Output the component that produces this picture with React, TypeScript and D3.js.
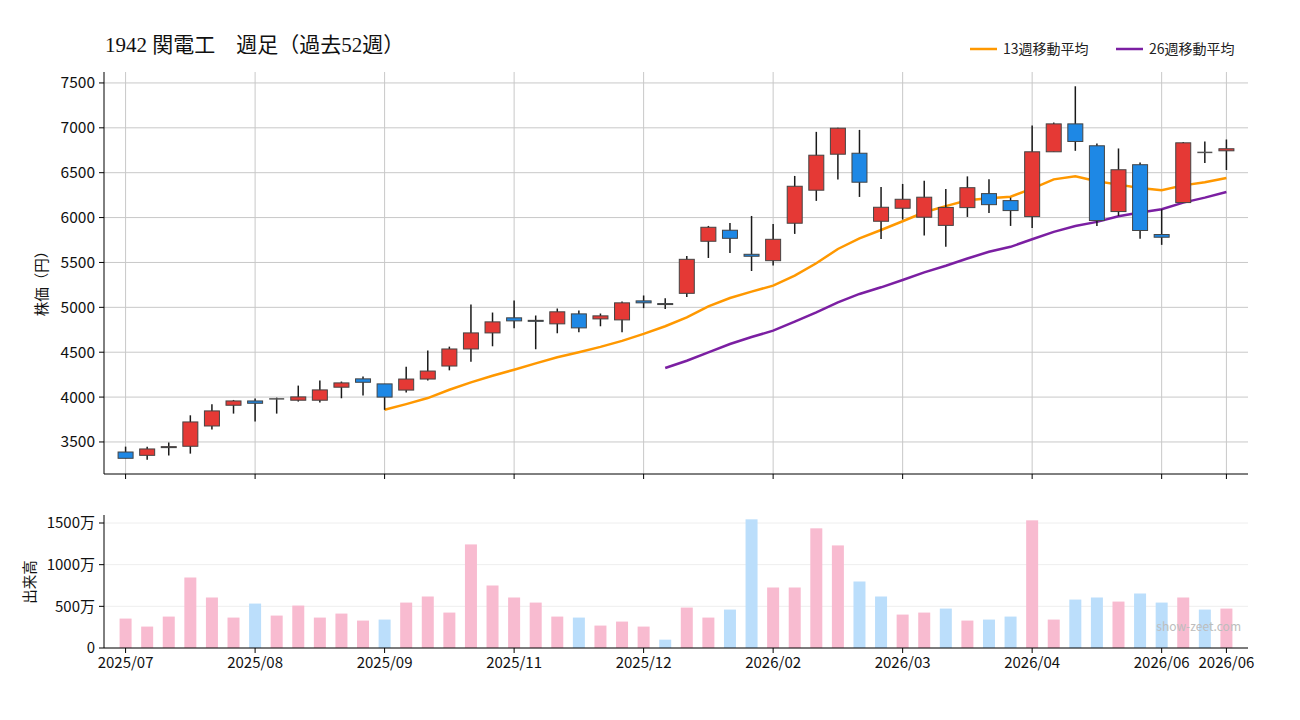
import React from "react";
import * as d3 from "d3";

// weekly OHLC, 52 weeks (yen)
const opens = [3388, 3351, 3446, 3452, 3678, 3909, 3957, 3980, 3965, 3965, 4110, 4203, 4147, 4078, 4201, 4346, 4536, 4715, 4883, 4855, 4816, 4927, 4871, 4860, 5072, 5042, 5156, 5736, 5859, 5591, 5520, 5937, 6305, 6706, 6717, 5959, 6104, 6004, 5913, 6111, 6267, 6189, 6011, 6733, 7044, 6800, 6067, 6589, 5811, 6167, 6726, 6744];
const highs = [3448, 3448, 3493, 3797, 3920, 3968, 3983, 3994, 4128, 4184, 4173, 4229, 4147, 4339, 4518, 4562, 5031, 4942, 5076, 4909, 4987, 4965, 4931, 5065, 5132, 5100, 5572, 5907, 5940, 6018, 5929, 6464, 6955, 7000, 6977, 6342, 6375, 6409, 6318, 6459, 6426, 6222, 7026, 7059, 7463, 6826, 6770, 6615, 6093, 6841, 6848, 6870];
const lows = [3318, 3303, 3348, 3370, 3638, 3816, 3727, 3816, 3950, 3939, 3987, 4017, 3858, 4052, 4186, 4298, 4395, 4566, 4767, 4533, 4711, 4722, 4789, 4722, 4991, 4982, 5115, 5550, 5606, 5405, 5465, 5818, 6186, 6424, 6230, 5762, 5978, 5799, 5675, 6007, 6052, 5907, 5885, 6733, 6744, 5907, 6019, 5763, 5696, 6167, 6607, 6530];
const closes = [3318, 3422, 3448, 3723, 3846, 3957, 3931, 3980, 4002, 4080, 4158, 4165, 4000, 4201, 4290, 4536, 4715, 4838, 4849, 4852, 4950, 4771, 4905, 5050, 5050, 5038, 5535, 5892, 5769, 5569, 5758, 6349, 6695, 6996, 6394, 6115, 6204, 6227, 6113, 6333, 6144, 6078, 6733, 7044, 6848, 5967, 6533, 5856, 5781, 6833, 6726, 6767];

// moving averages (start at week 12 / week 25)
const ma13 = [3858, 3922, 3989, 4082, 4164, 4238, 4305, 4376, 4443, 4499, 4559, 4626, 4704, 4789, 4888, 5011, 5104, 5175, 5242, 5353, 5491, 5650, 5769, 5862, 5959, 6059, 6128, 6193, 6215, 6233, 6322, 6426, 6459, 6404, 6367, 6330, 6304, 6359, 6393, 6441];
const ma26 = [4324, 4405, 4498, 4591, 4669, 4740, 4840, 4944, 5056, 5149, 5223, 5305, 5390, 5464, 5544, 5619, 5674, 5759, 5841, 5907, 5952, 6015, 6056, 6093, 6167, 6222, 6285];

// volume in 万株
const volumes = [353, 257, 377, 846, 606, 365, 533, 389, 509, 365, 413, 329, 341, 545, 618, 425, 1243, 750, 606, 545, 377, 365, 269, 317, 257, 100, 485, 365, 461, 1544, 726, 726, 1436, 1231, 798, 618, 401, 425, 473, 329, 341, 377, 1532, 341, 581, 606, 557, 654, 545, 606, 461, 473];
const volDown = [6, 12, 21, 25, 28, 29, 34, 35, 38, 40, 41, 44, 45, 47, 48, 50];

const xTickIdx = [0, 6, 12, 18, 24, 30, 36, 42, 48, 51];
const xTickLabels = ["2025/07", "2025/08", "2025/09", "2025/11", "2025/12", "2026/02", "2026/03", "2026/04", "2026/06", "2026/06"];
const priceTicks = [3500, 4000, 4500, 5000, 5500, 6000, 6500, 7000, 7500];
const volTicks = [0, 500, 1000, 1500];

const W = 1300;
const H = 720;
const left = 104;
const right = 1248;
const font = "'Noto Sans CJK JP', 'Noto Sans', sans-serif";

export default function App() {
  const x = d3.scaleLinear().domain([-1, 52]).range([left, right]);
  const y = d3.scaleLinear().domain([3143, 7622]).range([474, 72]);
  const yv = d3.scaleLinear().domain([0, 1596]).range([648, 515]);

  const line13 = d3
    .line<number>()
    .x((_, i) => x(i + 12))
    .y((d) => y(d));
  const line26 = d3
    .line<number>()
    .x((_, i) => x(i + 25))
    .y((d) => y(d));

  const cw = 15;
  const vw = 12;

  return (
    <svg width={W} height={H} style={{ position: "absolute", left: 0, top: 0, background: "#fff" }} fontFamily={font}>
      {/* title */}
      <text x={105} y={52} fontSize={21} fontFamily="'Liberation Serif', 'DejaVu Serif', 'Noto Sans CJK JP', serif" fill="#111">
        1942 関電工　週足（過去52週）
      </text>

      {/* legend */}
      <line x1={970} x2={997} y1={49} y2={49} stroke="#ff9800" strokeWidth={2.5} />
      <text x={1003} y={54} fontSize={14} fill="#222">13週移動平均</text>
      <line x1={1116} x2={1143} y1={49} y2={49} stroke="#7b1fa2" strokeWidth={2.5} />
      <text x={1149} y={54} fontSize={14} fill="#222">26週移動平均</text>

      {/* price grid */}
      {priceTicks.map((t) => (
        <line key={"pg" + t} x1={left} x2={right} y1={y(t)} y2={y(t)} stroke="#c8c8c8" strokeWidth={1} />
      ))}
      {xTickIdx.map((t) => (
        <line key={"vg" + t} x1={x(t)} x2={x(t)} y1={72} y2={474} stroke="#c8c8c8" strokeWidth={1} />
      ))}

      {/* moving averages */}
      <path d={line13(ma13) || ""} fill="none" stroke="#ff9800" strokeWidth={2.5} />
      <path d={line26(ma26) || ""} fill="none" stroke="#7b1fa2" strokeWidth={2.5} />

      {/* candles */}
      {opens.map((o, i) => {
        const c = closes[i];
        const cx = x(i);
        const top = y(Math.max(o, c));
        const bot = y(Math.min(o, c));
        const fill = c > o ? "#e53935" : c < o ? "#1e88e5" : "none";
        return (
          <g key={"c" + i}>
            <line x1={cx} x2={cx} y1={y(highs[i])} y2={y(lows[i])} stroke="#1a1a1a" strokeWidth={1.5} />
            {c === o ? (
              <line x1={cx - cw / 2} x2={cx + cw / 2} y1={top} y2={top} stroke="#555" strokeWidth={1.5} />
            ) : (
              <rect x={cx - cw / 2} y={top} width={cw} height={Math.max(1, bot - top)} fill={fill} stroke="#444" strokeWidth={1} />
            )}
          </g>
        );
      })}

      {/* price axes */}
      <line x1={left} x2={left} y1={72} y2={474} stroke="#000" strokeWidth={1} />
      <line x1={left} x2={right} y1={474} y2={474} stroke="#000" strokeWidth={1} />
      {priceTicks.map((t) => (
        <g key={"pt" + t}>
          <line x1={left - 5} x2={left} y1={y(t)} y2={y(t)} stroke="#000" />
          <text x={left - 9} y={y(t)} dy="0.35em" textAnchor="end" fontSize={15.5} fill="#111">
            {t}
          </text>
        </g>
      ))}
      {xTickIdx.map((t) => (
        <line key={"pxt" + t} x1={x(t)} x2={x(t)} y1={474} y2={479} stroke="#000" />
      ))}
      <text transform={`translate(47,280) rotate(-90)`} textAnchor="middle" fontSize={14.5} fill="#111">
        株価（円）
      </text>

      {/* volume grid */}
      {volTicks.map((t) => (
        <line key={"vgl" + t} x1={left} x2={right} y1={yv(t)} y2={yv(t)} stroke="#eeeeee" strokeWidth={1} />
      ))}

      {/* volume bars */}
      {volumes.map((v, i) => (
        <rect
          key={"v" + i}
          x={x(i) - vw / 2}
          y={yv(v)}
          width={vw}
          height={yv(0) - yv(v)}
          fill={volDown.includes(i) ? "#bbdefb" : "#f8bbd0"}
        />
      ))}

      <text x={1241} y={631} textAnchor="end" fontSize={12} fill="#bdbdbd">
        show-zeet.com
      </text>

      {/* volume axes */}
      <line x1={left} x2={left} y1={515} y2={648} stroke="#000" strokeWidth={1} />
      <line x1={left} x2={right} y1={648} y2={648} stroke="#000" strokeWidth={1} />
      {volTicks.map((t) => (
        <g key={"vt" + t}>
          <line x1={left - 5} x2={left} y1={yv(t)} y2={yv(t)} stroke="#000" />
          <text x={left - 9} y={yv(t)} dy="0.35em" textAnchor="end" fontSize={15} fill="#111">
            {t === 0 ? "0" : t + "万"}
          </text>
        </g>
      ))}
      {xTickIdx.map((t, k) => (
        <g key={"vxt" + t}>
          <line x1={x(t)} x2={x(t)} y1={648} y2={653} stroke="#000" />
          <text x={x(t)} y={668} textAnchor="middle" fontSize={15} fill="#111">
            {xTickLabels[k]}
          </text>
        </g>
      ))}
      <text transform={`translate(35,582) rotate(-90)`} textAnchor="middle" fontSize={14.5} fill="#111">
        出来高
      </text>
    </svg>
  );
}
